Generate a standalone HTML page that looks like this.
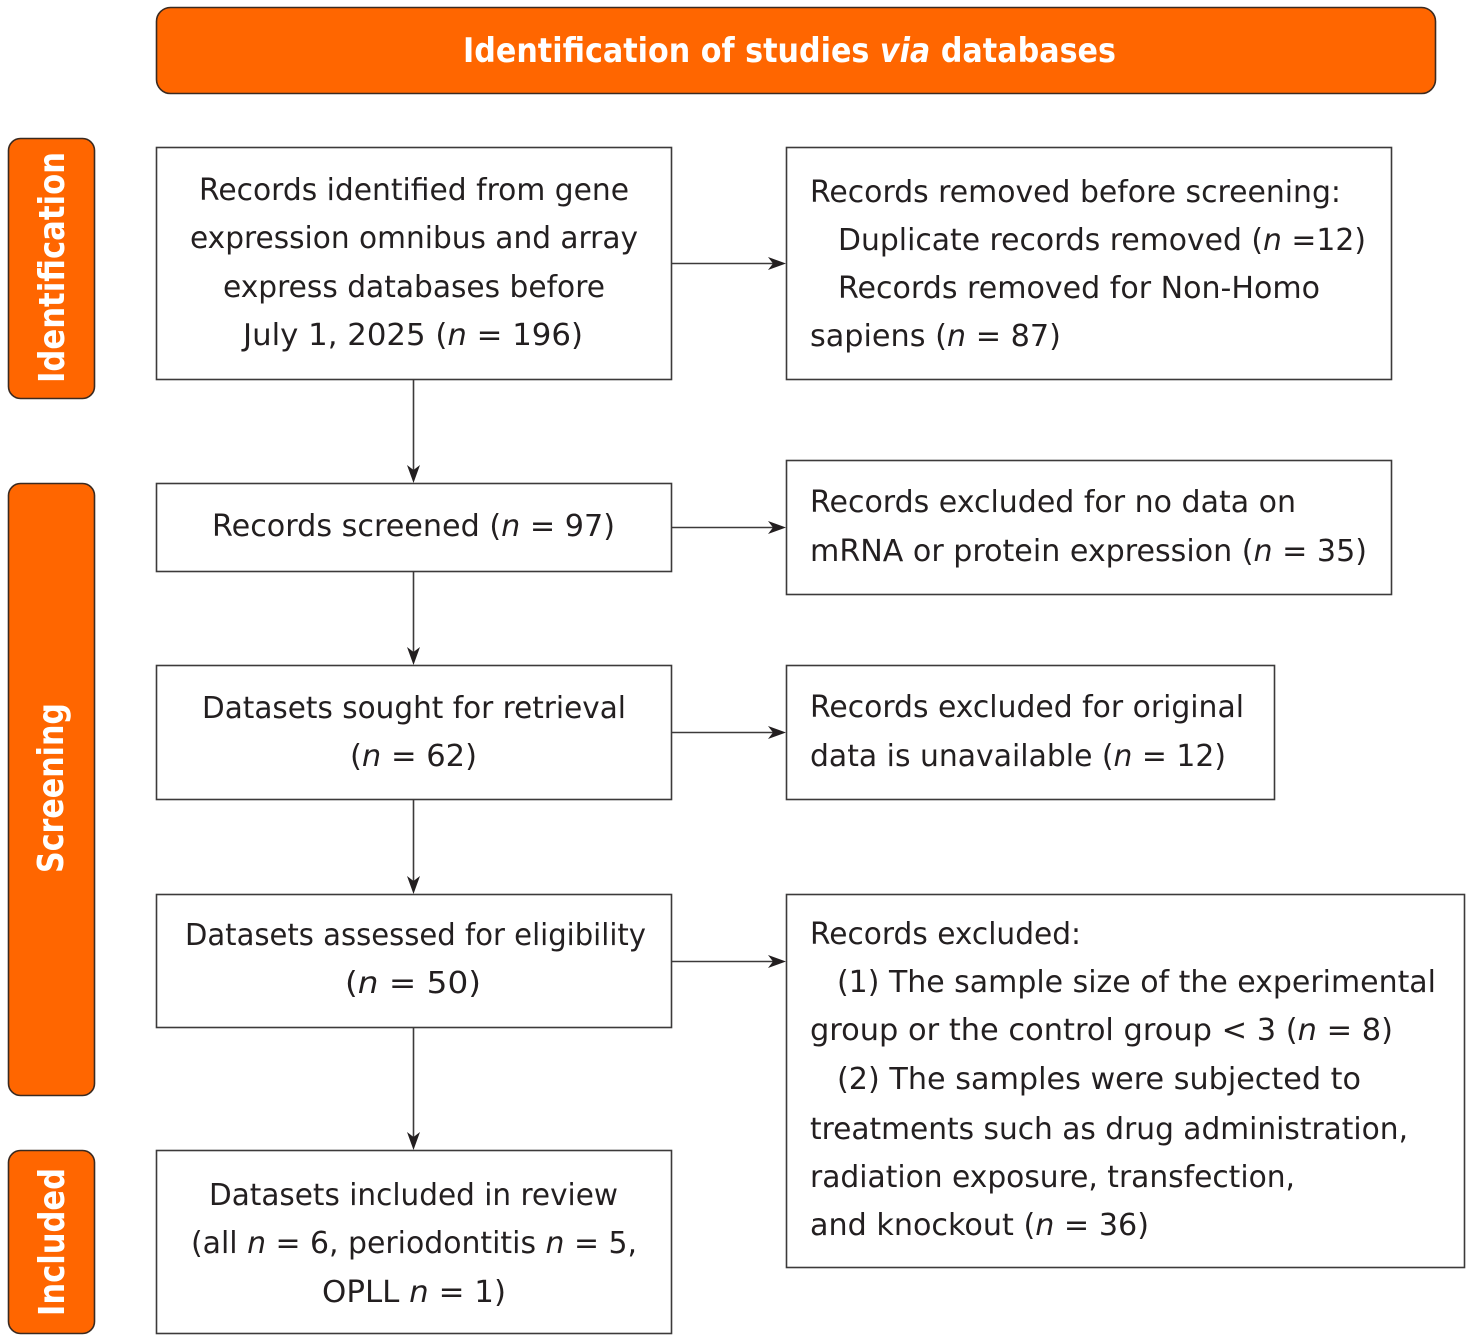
<!DOCTYPE html>
<html>
<head>
<meta charset="utf-8">
<style>
  html,body{margin:0;padding:0;background:#fff;}
  svg{display:block;}
  .t{font-family:"DejaVu Sans","Liberation Sans",sans-serif;font-size:30px;fill:#231f20;}
  .h{font-family:"DejaVu Sans","Liberation Sans",sans-serif;font-weight:bold;fill:#fff;}
  .box{fill:#fff;stroke:#3c3a3a;stroke-width:1.6;}
  .ln{stroke:#3c3a3a;stroke-width:1.6;fill:none;}
  .ah{fill:#231f20;}
</style>
</head>
<body>
<svg width="1472" height="1342" viewBox="0 0 1472 1342" xmlns="http://www.w3.org/2000/svg">
  <!-- Header -->
  <rect x="156.5" y="7.5" width="1279" height="86" rx="14" ry="14" fill="#ff6600" stroke="#3a2a20" stroke-width="1.6"/>
  <text class="h" x="463" y="62" font-size="34" textLength="653" lengthAdjust="spacingAndGlyphs">Identification of studies <tspan font-style="italic">via</tspan> databases</text>

  <!-- Side labels -->
  <rect x="8.5" y="138.5" width="86" height="260" rx="12" ry="12" fill="#ff6600" stroke="#3a2a20" stroke-width="1.6"/>
  <text class="h" font-size="36" transform="translate(64,383) rotate(-90)" textLength="231" lengthAdjust="spacingAndGlyphs">Identification</text>

  <rect x="8.5" y="483.5" width="86" height="612" rx="12" ry="12" fill="#ff6600" stroke="#3a2a20" stroke-width="1.6"/>
  <text class="h" font-size="36" transform="translate(63,873) rotate(-90)" textLength="170" lengthAdjust="spacingAndGlyphs">Screening</text>

  <rect x="8.5" y="1150.5" width="86" height="183" rx="12" ry="12" fill="#ff6600" stroke="#3a2a20" stroke-width="1.6"/>
  <text class="h" font-size="36" transform="translate(64,1316) rotate(-90)" textLength="148" lengthAdjust="spacingAndGlyphs">Included</text>

  <!-- Left column boxes -->
  <rect class="box" x="156.5" y="147.5" width="515" height="232"/>
  <text class="t" x="199" y="200" textLength="430" lengthAdjust="spacingAndGlyphs">Records identified from gene</text>
  <text class="t" x="190" y="248" textLength="448" lengthAdjust="spacingAndGlyphs">expression omnibus and array</text>
  <text class="t" x="223" y="297" textLength="382" lengthAdjust="spacingAndGlyphs">express databases before</text>
  <text class="t" x="243" y="345" textLength="340" lengthAdjust="spacingAndGlyphs">July 1, 2025 (<tspan font-style="italic">n</tspan> = 196)</text>

  <rect class="box" x="156.5" y="483.5" width="515" height="88"/>
  <text class="t" x="212" y="536" textLength="403" lengthAdjust="spacingAndGlyphs">Records screened (<tspan font-style="italic">n</tspan> = 97)</text>

  <rect class="box" x="156.5" y="665.5" width="515" height="134"/>
  <text class="t" x="202" y="718" textLength="424" lengthAdjust="spacingAndGlyphs">Datasets sought for retrieval</text>
  <text class="t" x="350" y="766" textLength="127" lengthAdjust="spacingAndGlyphs">(<tspan font-style="italic">n</tspan> = 62)</text>

  <rect class="box" x="156.5" y="894.5" width="515" height="133"/>
  <text class="t" x="185" y="945" textLength="461" lengthAdjust="spacingAndGlyphs">Datasets assessed for eligibility</text>
  <text class="t" x="345" y="993" textLength="136" lengthAdjust="spacingAndGlyphs">(<tspan font-style="italic">n</tspan> = 50)</text>

  <rect class="box" x="156.5" y="1150.5" width="515" height="183"/>
  <text class="t" x="209" y="1205" textLength="409" lengthAdjust="spacingAndGlyphs">Datasets included in review</text>
  <text class="t" x="191" y="1253" textLength="446" lengthAdjust="spacingAndGlyphs">(all <tspan font-style="italic">n</tspan> = 6, periodontitis <tspan font-style="italic">n</tspan> = 5,</text>
  <text class="t" x="322" y="1302" textLength="184" lengthAdjust="spacingAndGlyphs">OPLL <tspan font-style="italic">n</tspan> = 1)</text>

  <!-- Right column boxes -->
  <rect class="box" x="786.5" y="147.5" width="605" height="232"/>
  <text class="t" x="810" y="202" textLength="531" lengthAdjust="spacingAndGlyphs">Records removed before screening:</text>
  <text class="t" x="838" y="250" textLength="528" lengthAdjust="spacingAndGlyphs">Duplicate records removed (<tspan font-style="italic">n</tspan> =12)</text>
  <text class="t" x="838" y="298" textLength="482" lengthAdjust="spacingAndGlyphs">Records removed for Non-Homo</text>
  <text class="t" x="810" y="346" textLength="251" lengthAdjust="spacingAndGlyphs">sapiens (<tspan font-style="italic">n</tspan> = 87)</text>

  <rect class="box" x="786.5" y="460.5" width="605" height="134"/>
  <text class="t" x="810" y="512" textLength="486" lengthAdjust="spacingAndGlyphs">Records excluded for no data on</text>
  <text class="t" x="810" y="561" textLength="557" lengthAdjust="spacingAndGlyphs">mRNA or protein expression (<tspan font-style="italic">n</tspan> = 35)</text>

  <rect class="box" x="786.5" y="665.5" width="488" height="134"/>
  <text class="t" x="810" y="717" textLength="434" lengthAdjust="spacingAndGlyphs">Records excluded for original</text>
  <text class="t" x="810" y="766" textLength="416" lengthAdjust="spacingAndGlyphs">data is unavailable (<tspan font-style="italic">n</tspan> = 12)</text>

  <rect class="box" x="786.5" y="894.5" width="678" height="373"/>
  <text class="t" x="810" y="944" textLength="271" lengthAdjust="spacingAndGlyphs">Records excluded:</text>
  <text class="t" x="837" y="992" textLength="599" lengthAdjust="spacingAndGlyphs">(1) The sample size of the experimental</text>
  <text class="t" x="810" y="1040" textLength="583" lengthAdjust="spacingAndGlyphs">group or the control group &lt; 3 (<tspan font-style="italic">n</tspan> = 8)</text>
  <text class="t" x="837" y="1089" textLength="524" lengthAdjust="spacingAndGlyphs">(2) The samples were subjected to</text>
  <text class="t" x="810" y="1139" textLength="598" lengthAdjust="spacingAndGlyphs">treatments such as drug administration,</text>
  <text class="t" x="810" y="1187" textLength="485" lengthAdjust="spacingAndGlyphs">radiation exposure, transfection,</text>
  <text class="t" x="810" y="1235" textLength="339" lengthAdjust="spacingAndGlyphs">and knockout (<tspan font-style="italic">n</tspan> = 36)</text>

  <!-- Vertical connectors -->
  <line class="ln" x1="413.5" y1="380" x2="413.5" y2="472"/>
  <path class="ah" d="M413.5,483 L407,465 L413.5,470 L420,465 Z"/>
  <line class="ln" x1="413.5" y1="572" x2="413.5" y2="654"/>
  <path class="ah" d="M413.5,665 L407,647 L413.5,652 L420,647 Z"/>
  <line class="ln" x1="413.5" y1="800" x2="413.5" y2="883"/>
  <path class="ah" d="M413.5,894 L407,876 L413.5,881 L420,876 Z"/>
  <line class="ln" x1="413.5" y1="1028" x2="413.5" y2="1139"/>
  <path class="ah" d="M413.5,1150 L407,1132 L413.5,1137 L420,1132 Z"/>

  <!-- Horizontal connectors -->
  <line class="ln" x1="672" y1="263.5" x2="775" y2="263.5"/>
  <path class="ah" d="M786,263.5 L768,257 L773,263.5 L768,270 Z"/>
  <line class="ln" x1="672" y1="527.5" x2="775" y2="527.5"/>
  <path class="ah" d="M786,527.5 L768,521 L773,527.5 L768,534 Z"/>
  <line class="ln" x1="672" y1="732.5" x2="775" y2="732.5"/>
  <path class="ah" d="M786,732.5 L768,726 L773,732.5 L768,739 Z"/>
  <line class="ln" x1="672" y1="961.5" x2="775" y2="961.5"/>
  <path class="ah" d="M786,961.5 L768,955 L773,961.5 L768,968 Z"/>
</svg>
</body>
</html>
